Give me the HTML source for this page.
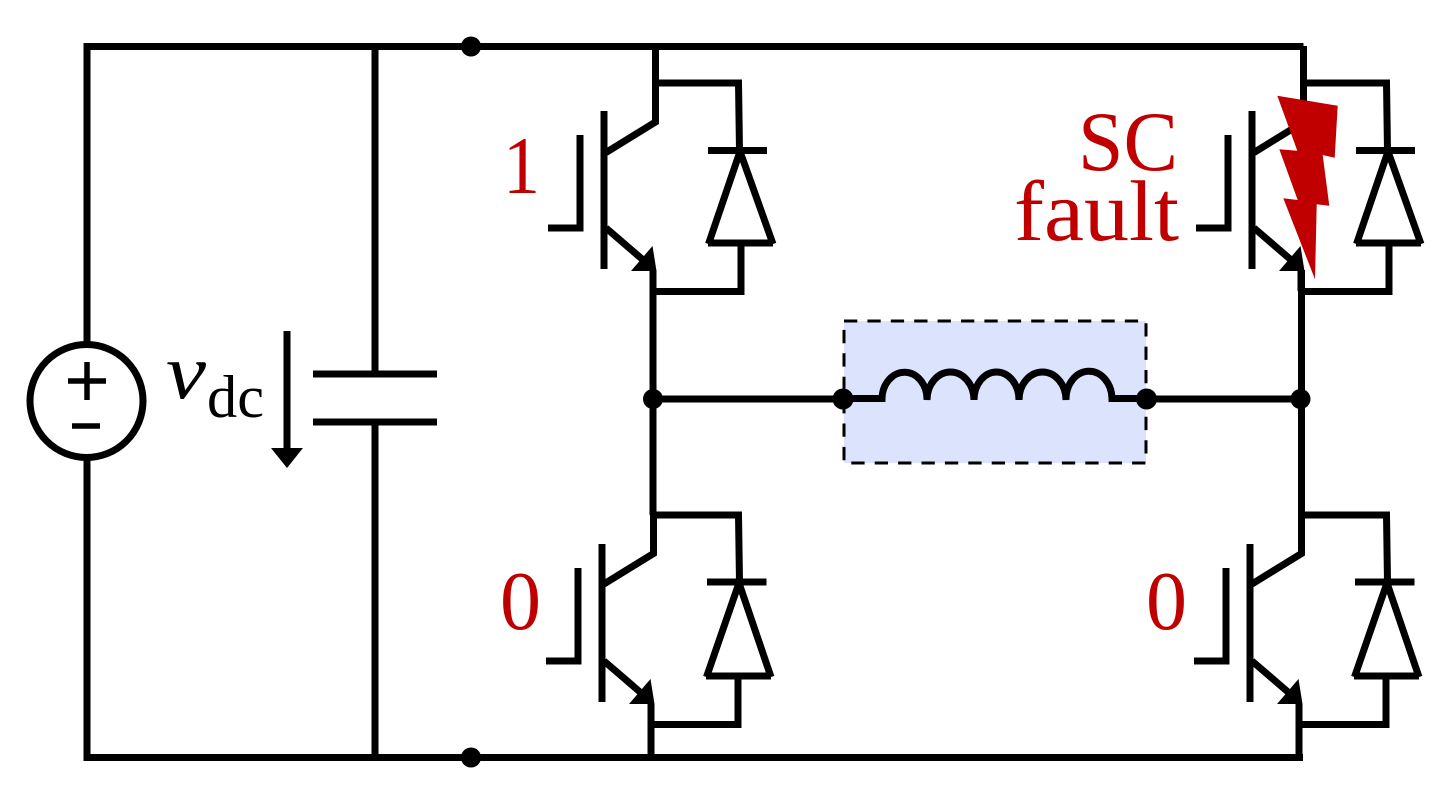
<!DOCTYPE html>
<html>
<head>
<meta charset="utf-8">
<style>
html,body{margin:0;padding:0;background:#fff;}
svg{display:block;}
</style>
</head>
<body>
<svg width="1448" height="804" viewBox="0 0 1448 804" xmlns="http://www.w3.org/2000/svg">
<rect width="1448" height="804" fill="#fff"/>
<rect x="844" y="321" width="302" height="142" fill="#dce4fd"/>
<rect x="844" y="321" width="302" height="142" fill="none" stroke="#000" stroke-width="3" stroke-dasharray="13.3 10.1"/>
<g fill="none" stroke="#000" stroke-width="7">
  <path d="M84 46.500H1303.500"/>
  <path d="M87 757.500H1303"/>
  <path d="M87 43V343M87 459V761"/>
  <circle cx="86.500" cy="401" r="56.500"/>
  <path d="M375 46V374M375 422V757"/>
  <path d="M313 374H437M313 422H437"/>
  <path d="M287 331V450"/>
  <path d="M653 399H843M1146 399H1300"/>
  <path d="M843 398.500H882A22.500 27 0 0 1 927 400A23.500 28 0 0 1 974 400A22.500 28 0 0 1 1019 400A23.500 28 0 0 1 1066 400A23 28 0 0 1 1112 398.500H1146"/>
  <path d="M655.500 46V84M653 270V515M1303.500 46V84M1301.500 270V515"/>
</g>
<path d="M68 381H106M87 362V400M72 426H100" fill="none" stroke="#000" stroke-width="5.500"/>
<path d="M271 448H303L287 468Z" fill="#000"/>
<g fill="#000">
  <circle cx="471" cy="46.500" r="10"/>
  <circle cx="471" cy="757.500" r="10"/>
  <circle cx="653" cy="399" r="10"/>
  <circle cx="843" cy="399" r="10.500"/>
  <circle cx="1146.500" cy="399" r="10.500"/>
  <circle cx="1300.500" cy="399" r="10"/>
</g>

<g transform="translate(0,0)">
  <g fill="none" stroke="#000" stroke-width="7">
    <path d="M602 544V702"/>
    <path d="M578 568V661H546"/>
    <path d="M653.500 515V553.500L604 584"/>
    <path d="M604 661L640 692"/>
    <path d="M651 704V757M648 724.500H738V676"/>
    <path d="M653 515H738.500L739.500 582"/>
    <path d="M707 582H766.500M706 676H771"/>
    <path d="M706.500 677L739 583L771 677"/>
  </g>
  <path d="M650.500 679L654.500 704H629Z" fill="#000"/>
</g>
<g transform="translate(648,0)">
  <g fill="none" stroke="#000" stroke-width="7">
    <path d="M602 544V702"/>
    <path d="M578 568V661H546"/>
    <path d="M653.500 515V553.500L604 584"/>
    <path d="M604 661L640 692"/>
    <path d="M651 704V757M648 724.500H738V676"/>
    <path d="M653 515H738.500L739.500 582"/>
    <path d="M707 582H766.500M706 676H771"/>
    <path d="M706.500 677L739 583L771 677"/>
  </g>
  <path d="M650.500 679L654.500 704H629Z" fill="#000"/>
</g>
<g transform="translate(2,-433)">
  <g fill="none" stroke="#000" stroke-width="7">
    <path d="M602 544V702"/>
    <path d="M578 568V661H546"/>
    <path d="M653.500 515V555L604 585.500"/>
    <path d="M604 661L640 692"/>
    <path d="M651 704V724M648 724.500H739V676"/>
    <path d="M653 516H736.500L737.500 583.500"/>
    <path d="M706 583.500H765M706 676H771"/>
    <path d="M706.500 677L738 584.500L771 677"/>
  </g>
  <path d="M650.500 679L654.500 704H629Z" fill="#000"/>
</g>
<g transform="translate(650,-433)">
  <g fill="none" stroke="#000" stroke-width="7">
    <path d="M602 544V702"/>
    <path d="M578 568V661H546"/>
    <path d="M653.500 515V555L604 585.500"/>
    <path d="M604 661L640 692"/>
    <path d="M651 704V724M648 724.500H739V676"/>
    <path d="M653 516H736.500L737.500 583.500"/>
    <path d="M706 583.500H765M706 676H771"/>
    <path d="M706.500 677L738 584.500L771 677"/>
  </g>
  <path d="M650.500 679L654.500 704H629Z" fill="#000"/>
</g>

<path d="M1277.300 95.700L1337.700 105.700L1334.700 157.700L1322.700 155L1329.300 205.700L1316.700 204.300L1315 279.300L1283.300 198.300L1297.700 200L1279.300 149.300L1297.300 150.700Z" fill="#c00000"/>

<g font-family="'Liberation Serif',serif" fill="#c00000">
  <text x="503" y="193" font-size="82" textLength="37" lengthAdjust="spacingAndGlyphs">1</text>
  <text x="500" y="629" font-size="84" textLength="41" lengthAdjust="spacingAndGlyphs">0</text>
  <text x="1146" y="629" font-size="84" textLength="41" lengthAdjust="spacingAndGlyphs">0</text>
  <text x="1078" y="170" font-size="85" textLength="100" lengthAdjust="spacingAndGlyphs">SC</text>
  <text x="1014" y="240" font-size="86" textLength="165" lengthAdjust="spacingAndGlyphs">fault</text>
</g>
<g font-family="'Liberation Serif',serif" fill="#000">
  <text x="166" y="398" font-size="78" font-style="italic" textLength="40" lengthAdjust="spacingAndGlyphs">v</text>
  <text x="207" y="417" font-size="60" textLength="57" lengthAdjust="spacingAndGlyphs">dc</text>
</g>
</svg>
</body>
</html>
